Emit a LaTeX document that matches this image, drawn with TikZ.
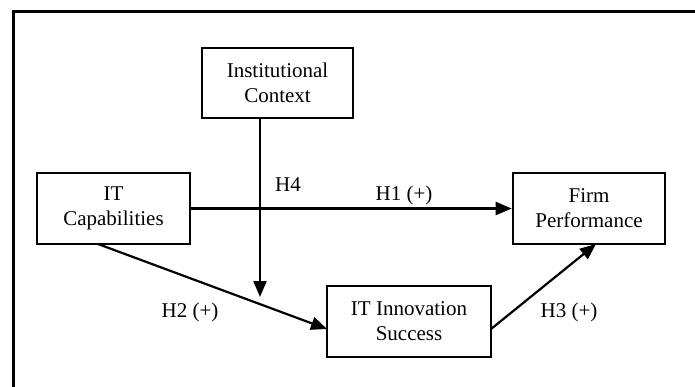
\documentclass[tikz,border=0pt]{standalone}
\usepackage{fontspec}
\setmainfont{Liberation Serif}
\usetikzlibrary{arrows.meta}
\begin{document}
\begin{tikzpicture}[x=1pt,y=-1pt,
  box/.style={draw=black,line width=2.6pt,inner sep=0pt,align=center,
    font=\fontsize{21}{25}\selectfont},
  conn/.style={line width=2.2pt,-{Triangle[length=16pt,width=13pt]}},
  lbl/.style={font=\fontsize{21}{25}\selectfont,inner sep=0pt}]
\useasboundingbox (0,0) rectangle (695,386);
\clip (0,0) rectangle (695,386);
\fill[white] (0,0) rectangle (695,386);
\draw[line width=2.6pt] (13.3,11.5) rectangle (699,392);
\node[box,minimum width=151pt,minimum height=70pt] (inst) at (277.5,83) {Institutional\\Context};
\node[box,minimum width=153pt,minimum height=71pt] (itcap) at (113.5,208.5) {IT\\Capabilities};
\node[box,minimum width=152pt,minimum height=71pt] (firm) at (589,208.5) {Firm\\Performance};
\node[box,minimum width=164pt,minimum height=71pt] (innov) at (409,321.5) {IT Innovation\\Success};
\coordinate (h4end) at (260,297);
\coordinate (h2s) at (98,244);
\coordinate (h2e) at (327,329);
\coordinate (h3s) at (491,329);
\coordinate (h3e) at (596,244);
\draw[conn] (itcap.east) -- (firm.west);
\draw[conn] (inst.south -| h4end) -- (h4end);
\draw[conn] (h2s) -- (h2e);
\draw[conn] (h3s) -- (h3e);
\node[lbl] (lh4) at (288,185) {H4};
\node[lbl] (lh1) at (404,195) {H1 (+)};
\node[lbl] (lh2) at (190,312) {H2 (+)};
\node[lbl] (lh3) at (569,312) {H3 (+)};
\end{tikzpicture}
\end{document}
